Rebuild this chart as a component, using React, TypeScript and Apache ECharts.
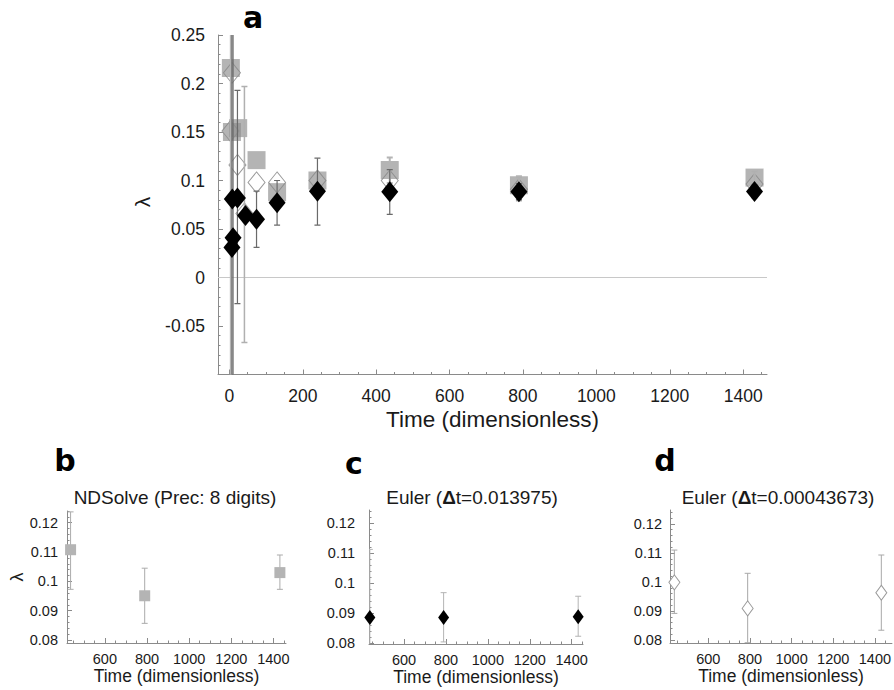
import React, { useEffect, useRef } from "react";
import * as echarts from "echarts";

// ---- Data ----
// NDSolve (Prec: 8 digits) — gray squares
const ndT = [4, 7, 24, 74, 130, 240, 437, 789, 1431];
const ndL = [0.216, 0.15, 0.154, 0.121, 0.088, 0.1, 0.1108, 0.0951, 0.103];
const ndLo = [-0.6, null, null, null, null, null, 0.0973, 0.0857, 0.0973];
const ndHi = [0.6, null, null, null, null, null, 0.1237, 0.1045, 0.109];

// Euler (Δt=0.013975) — black diamonds
const euT = [7, 10, 8, 22, 44, 74, 130, 240, 437, 789, 1431];
const euL = [0.031, 0.041, 0.081, 0.082, 0.064, 0.06, 0.077, 0.089, 0.0885, 0.0885, 0.0887];
const euLo = [-0.6, -0.6, null, -0.027, null, 0.031, 0.054, 0.054, 0.065, 0.0803, 0.0822];
const euHi = [0.6, 0.6, null, 0.193, null, 0.089, 0.1, 0.123, 0.1113, 0.0968, 0.0956];

// Euler (Δt=0.00043673) — open diamonds
const fiT = [3, 7, 22, 41, 74, 130, 240, 437, 789, 1431];
const fiL = [0.151, 0.211, 0.116, 0.066, 0.098, 0.098, 0.1, 0.0999, 0.0909, 0.0963];
const fiLo = [null, null, null, -0.067, null, null, null, 0.0892, 0.0791, 0.0834];
const fiHi = [null, null, null, 0.197, null, null, null, 0.111, 0.103, 0.1093];

// Tick labels
const mainXTicks = [0, 200, 400, 600, 800, 1000, 1200, 1400];
const mainYTicks = [-0.1, -0.05, 0, 0.05, 0.1, 0.15, 0.2, 0.25];
const mainYLabels = [-0.05, 0, 0.05, 0.1, 0.15, 0.2, 0.25];
const panelXTicks = [600, 800, 1000, 1200, 1400];
const panelYTicks = [0.08, 0.09, 0.1, 0.11, 0.12];

const panelTitles = [
  "NDSolve (Prec: 8 digits)",
  "Euler ({b|Δ}t=0.013975)",
  "Euler ({b|Δ}t=0.00043673)",
];
const xTitle = "Time (dimensionless)";

const FONT = '"Liberation Sans", Arial, sans-serif';
const AXIS_COLOR = "#8a8a8a";
const TEXT_COLOR = "#1a1a1a";

function range(a: number, b: number, step: number) {
  const out: number[] = [];
  const n0 = Math.ceil(a / step - 1e-9);
  const n1 = Math.floor(b / step + 1e-9);
  for (let i = n0; i <= n1; i++) out.push(Math.round(i * step * 1e6) / 1e6);
  return out;
}

function pts(t: number[], l: number[]) {
  return t.map((v, i) => [v, l[i]]);
}
function errs(t: number[], lo: (number | null)[], hi: (number | null)[]) {
  const out: number[][] = [];
  t.forEach((v, i) => {
    if (lo[i] != null && hi[i] != null) out.push([v, lo[i] as number, hi[i] as number]);
  });
  return out;
}

function errSeries(
  data: number[][],
  xi: number,
  yi: number,
  color: string,
  width: number,
  cap: number,
  z: number
) {
  return {
    type: "custom",
    xAxisIndex: xi,
    yAxisIndex: yi,
    clip: true,
    z,
    silent: true,
    data,
    encode: { x: 0, y: [1, 2] },
    renderItem: (_p: any, api: any) => {
      const x = api.value(0);
      const lo = api.value(1);
      const hi = api.value(2);
      const a = api.coord([x, hi]);
      const b = api.coord([x, lo]);
      const style = { stroke: color, lineWidth: width, fill: "none" };
      return {
        type: "group",
        children: [
          { type: "line", shape: { x1: a[0], y1: a[1], x2: b[0], y2: b[1] }, style },
          { type: "line", shape: { x1: a[0] - cap, y1: a[1], x2: a[0] + cap, y2: a[1] }, style },
          { type: "line", shape: { x1: b[0] - cap, y1: b[1], x2: b[0] + cap, y2: b[1] }, style },
        ],
      };
    },
  };
}

interface AxisSpec {
  grid: number;
  xMin: number;
  xMax: number;
  yMin: number;
  yMax: number;
  xTicks: number[];
  xLabels: number[];
  xMinor: number[];
  yTicks: number[];
  yLabels: number[];
  yMinor: number[];
  xFont: number;
  yFont: number;
  xMargin: number;
  yMargin: number;
  nameFont: number;
  nameGap: number;
}

function buildAxes(s: AxisSpec) {
  const line = { color: AXIS_COLOR, width: 1 };
  const xMajor = {
    type: "value",
    gridIndex: s.grid,
    position: "bottom",
    min: s.xMin,
    max: s.xMax,
    axisLine: { show: true, onZero: false, lineStyle: line },
    axisTick: { show: true, inside: true, length: 5, customValues: s.xTicks, lineStyle: line },
    axisLabel: {
      customValues: s.xLabels,
      margin: s.xMargin,
      fontSize: s.xFont,
      fontFamily: FONT,
      color: TEXT_COLOR,
      formatter: (v: number) => String(Math.round(v)),
    },
    splitLine: { show: false },
    name: xTitle,
    nameLocation: "middle",
    nameGap: s.nameGap,
    nameTextStyle: { fontSize: s.nameFont, fontFamily: FONT, color: TEXT_COLOR },
  };
  const xMinor = {
    type: "value",
    gridIndex: s.grid,
    position: "bottom",
    min: s.xMin,
    max: s.xMax,
    axisLine: { show: false, onZero: false },
    axisTick: { show: true, inside: true, length: 2.5, customValues: s.xMinor, lineStyle: line },
    axisLabel: { show: false },
    splitLine: { show: false },
  };
  const yMajor = {
    type: "value",
    gridIndex: s.grid,
    position: "left",
    min: s.yMin,
    max: s.yMax,
    axisLine: { show: true, onZero: false, lineStyle: line },
    axisTick: { show: true, inside: true, length: 5, customValues: s.yTicks, lineStyle: line },
    axisLabel: {
      customValues: s.yLabels,
      margin: s.yMargin,
      fontSize: s.yFont,
      fontFamily: FONT,
      color: TEXT_COLOR,
      formatter: (v: number) => String(Math.round(v * 1e6) / 1e6),
    },
    splitLine: { show: false },
  };
  const yMinor = {
    type: "value",
    gridIndex: s.grid,
    position: "left",
    min: s.yMin,
    max: s.yMax,
    axisLine: { show: false, onZero: false },
    axisTick: { show: true, inside: true, length: 2.5, customValues: s.yMinor, lineStyle: line },
    axisLabel: { show: false },
    splitLine: { show: false },
  };
  return { x: [xMajor, xMinor], y: [yMajor, yMinor] };
}

function buildOption() {
  const grids = [
    { left: 218, top: 35, width: 549, height: 339.5 },
    { left: 67, top: 511, width: 219, height: 132 },
    { left: 369, top: 510, width: 214, height: 134 },
    { left: 670, top: 510, width: 224, height: 133 },
  ];

  const specs: AxisSpec[] = [
    {
      grid: 0, xMin: -31, xMax: 1465, yMin: -0.1, yMax: 0.25,
      xTicks: mainXTicks, xLabels: mainXTicks, xMinor: range(-31, 1465, 50),
      yTicks: mainYTicks, yLabels: mainYLabels, yMinor: range(-0.1, 0.25, 0.01),
      xFont: 17.5, yFont: 17.5, xMargin: 12, yMargin: 13, nameFont: 22.5, nameGap: 33,
    },
    {
      grid: 1, xMin: 420, xMax: 1460, yMin: 0.079, yMax: 0.124,
      xTicks: panelXTicks, xLabels: panelXTicks, xMinor: range(420, 1460, 50),
      yTicks: panelYTicks, yLabels: panelYTicks, yMinor: range(0.079, 0.124, 0.002),
      xFont: 14.5, yFont: 14.5, xMargin: 8, yMargin: 9, nameFont: 17.5, nameGap: 23,
    },
    {
      grid: 2, xMin: 433, xMax: 1454, yMin: 0.0796, yMax: 0.1245,
      xTicks: panelXTicks, xLabels: panelXTicks, xMinor: range(433, 1454, 50),
      yTicks: panelYTicks, yLabels: panelYTicks, yMinor: range(0.0796, 0.1245, 0.002),
      xFont: 14.5, yFont: 14.5, xMargin: 8, yMargin: 14, nameFont: 17.5, nameGap: 23,
    },
    {
      grid: 3, xMin: 416, xMax: 1482, yMin: 0.079, yMax: 0.1248,
      xTicks: panelXTicks, xLabels: panelXTicks, xMinor: range(416, 1482, 50),
      yTicks: panelYTicks, yLabels: panelYTicks, yMinor: range(0.079, 0.1248, 0.002),
      xFont: 14.5, yFont: 14.5, xMargin: 8, yMargin: 8, nameFont: 17.5, nameGap: 23,
    },
  ];

  const xAxis: any[] = [];
  const yAxis: any[] = [];
  specs.forEach((s) => {
    const a = buildAxes(s);
    xAxis.push(...a.x);
    yAxis.push(...a.y);
  });

  const squareColor = "rgba(140,140,140,0.65)";
  const series: any[] = [];

  // ---- Panel a ----
  series.push({
    type: "scatter", xAxisIndex: 0, yAxisIndex: 0, z: 3,
    symbol: "diamond", symbolSize: [17, 21],
    itemStyle: { color: "#ffffff", borderColor: "#9a9a9a", borderWidth: 1, opacity: 1 },
    data: pts(fiT, fiL),
    markLine: {
      silent: true, symbol: "none", label: { show: false },
      lineStyle: { color: "#c8c8c8", width: 1, type: "solid" },
      data: [{ yAxis: 0 }],
    },
  });
  series.push({
    type: "scatter", xAxisIndex: 0, yAxisIndex: 0, z: 4,
    symbol: "rect", symbolSize: [18, 18],
    itemStyle: { color: squareColor, opacity: 1 },
    data: pts(ndT, ndL),
  });
  series.push(errSeries(errs(ndT, ndLo, ndHi), 0, 0, "#b4b4b4", 2, 3, 5));
  series.push(errSeries(errs(fiT, fiLo, fiHi), 0, 0, "#b0b0b0", 1.5, 3, 5));
  series.push(errSeries(errs(euT, euLo, euHi), 0, 0, "#6a6a6a", 1.2, 3, 5));
  series.push({
    type: "scatter", xAxisIndex: 0, yAxisIndex: 0, z: 6,
    symbol: "diamond", symbolSize: [17, 21],
    itemStyle: { color: "#000000", opacity: 1 },
    data: pts(euT, euL),
  });

  // ---- Panel b ----
  series.push(errSeries(errs(ndT, ndLo, ndHi).slice(-3), 2, 2, "#ababab", 1, 3, 3));
  series.push({
    type: "scatter", xAxisIndex: 2, yAxisIndex: 2, z: 4, clip: false,
    symbol: "rect", symbolSize: [11, 11],
    itemStyle: { color: "#b4b4b4", opacity: 1 },
    data: pts(ndT, ndL).slice(-3),
  });
  // ---- Panel c ----
  series.push(errSeries(errs(euT, euLo, euHi).slice(-3), 4, 4, "#b4b4b4", 1, 3, 3));
  series.push({
    type: "scatter", xAxisIndex: 4, yAxisIndex: 4, z: 4, clip: false,
    symbol: "diamond", symbolSize: [11, 15],
    itemStyle: { color: "#000000", opacity: 1 },
    data: pts(euT, euL).slice(-3),
  });
  // ---- Panel d ----
  series.push(errSeries(errs(fiT, fiLo, fiHi).slice(-3), 6, 6, "#a8a8a8", 1, 3, 3));
  series.push({
    type: "scatter", xAxisIndex: 6, yAxisIndex: 6, z: 4, clip: false,
    symbol: "diamond", symbolSize: [11, 15],
    itemStyle: { color: "#ffffff", borderColor: "#9a9a9a", borderWidth: 1, opacity: 1 },
    data: pts(fiT, fiL).slice(-3),
  });

  const letterFont = 'bold 30px "DejaVu Sans", Verdana, sans-serif';
  const letter = (t: string, x: number, y: number) => ({
    type: "text", x, y, z: 20,
    style: {
      text: t, font: letterFont, fill: "#000",
      textAlign: "center", textVerticalAlign: "middle", align: "center", verticalAlign: "middle",
    },
  });
  const title = (t: string, x: number, y: number) => ({
    type: "text", x, y, z: 20,
    style: {
      text: t, fontSize: 19, fontFamily: FONT, fill: TEXT_COLOR,
      textAlign: "center", textVerticalAlign: "middle", align: "center", verticalAlign: "middle",
      rich: { b: { fontSize: 19, fontFamily: FONT, fontWeight: "bold", fill: TEXT_COLOR } },
    },
  });
  const lam = (x: number, y: number, size: number) => ({
    type: "text", x, y, z: 20, rotation: Math.PI / 2,
    style: {
      text: "λ", fontSize: size, fontFamily: FONT, fill: TEXT_COLOR,
      textAlign: "center", textVerticalAlign: "middle", align: "center", verticalAlign: "middle",
    },
  });

  const graphic = [
    letter("a", 253, 17),
    letter("b", 65, 460),
    letter("c", 354, 463),
    letter("d", 665, 460),
    title(panelTitles[0], 175, 497),
    title(panelTitles[1], 472, 497),
    title(panelTitles[2], 778, 497),
    lam(142, 202, 21),
    lam(17, 577, 18),
  ];

  return {
    animation: false,
    backgroundColor: "#ffffff",
    grid: grids,
    xAxis,
    yAxis,
    series,
    graphic,
  };
}

export default function App() {
  const ref = useRef<HTMLDivElement>(null);
  useEffect(() => {
    if (!ref.current) return;
    const chart = echarts.init(ref.current, undefined, { renderer: "svg" });
    chart.setOption(buildOption() as any);
    return () => chart.dispose();
  }, []);
  return (
    <div
      ref={ref}
      style={{ position: "absolute", left: 0, top: 0, width: 894, height: 690 }}
    />
  );
}
